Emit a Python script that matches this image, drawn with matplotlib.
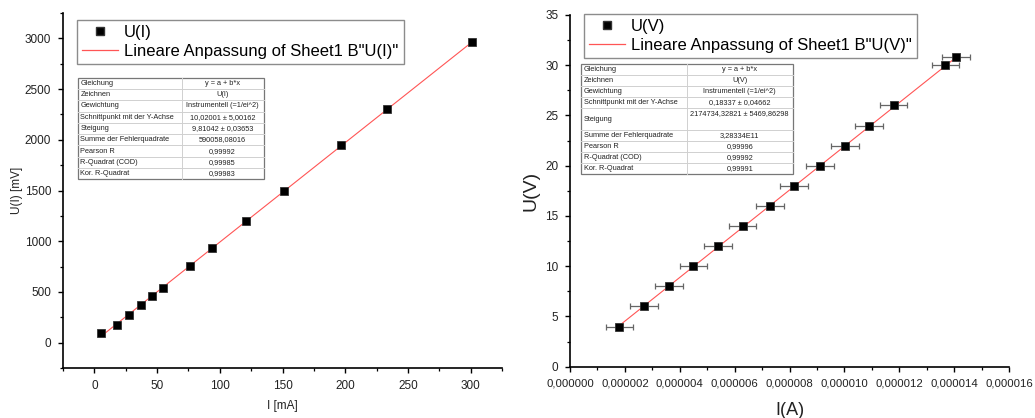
import numpy as np
import matplotlib
matplotlib.use("Agg")
import matplotlib.pyplot as plt
from matplotlib.ticker import MultipleLocator, FuncFormatter
from matplotlib.lines import Line2D

plt.rcParams['font.family'] = ['Liberation Sans', 'DejaVu Sans']

# left panel: U(I) in mV vs I in mA
i_ma = [5, 18, 28, 37, 46, 55, 76, 94, 121, 151, 197, 233, 301]
u_mv = [92, 178, 275, 373, 455, 538, 752, 934, 1198, 1492, 1948, 2304, 2962]
fit1_a, fit1_b = 10.02001, 9.81042

# right panel: U in V vs I in A
i_a = [1.80e-6, 2.70e-6, 3.61e-6, 4.50e-6, 5.39e-6, 6.29e-6, 7.29e-6,
       8.16e-6, 9.11e-6, 10.02e-6, 10.90e-6, 11.80e-6, 13.68e-6, 14.07e-6]
u_v = [4, 6, 8, 10, 12, 14, 16, 18, 20, 22, 24, 26, 30, 30.85]
i_a_err = [5e-7] * len(i_a)
fit2_a, fit2_b = 0.18337, 2174734.32821

table1 = [
    ("Gleichung", "y = a + b*x"),
    ("Zeichnen", "U(I)"),
    ("Gewichtung", "Instrumentell (=1/ei^2)"),
    ("Schnittpunkt mit der Y-Achse", "10,02001 ± 5,00162"),
    ("Steigung", "9,81042 ± 0,03653"),
    ("Summe der Fehlerquadrate", "590058,08016"),
    ("Pearson R", "0,99992"),
    ("R-Quadrat (COD)", "0,99985"),
    ("Kor. R-Quadrat", "0,99983"),
]
table2 = [
    ("Gleichung", "y = a + b*x"),
    ("Zeichnen", "U(V)"),
    ("Gewichtung", "Instrumentell (=1/ei^2)"),
    ("Schnittpunkt mit der Y-Achse", "0,18337 ± 0,04662"),
    ("Steigung", "2174734,32821 ± 5469,86298"),
    ("Summe der Fehlerquadrate", "3,28334E11"),
    ("Pearson R", "0,99996"),
    ("R-Quadrat (COD)", "0,99992"),
    ("Kor. R-Quadrat", "0,99991"),
]

W, H = 1035, 418
fig = plt.figure(figsize=(W / 100, H / 100), dpi=100)

FIT_COLOR = '#ff5555'
TXT = '#222222'


def style_axes(ax):
    ax.spines['top'].set_visible(False)
    ax.spines['right'].set_visible(False)
    for s in ('left', 'bottom'):
        ax.spines[s].set_linewidth(1.2)
    ax.tick_params(which='major', direction='out', length=3.5, width=1.0,
                   labelsize=8.5, pad=5, labelcolor=TXT)
    ax.tick_params(which='minor', direction='out', length=2.2, width=0.9)


def add_legend(ax, label1, label2, x0, y0):
    handles = [
        Line2D([], [], ls='none', marker='s', ms=6, mfc='black', mec='#333333'),
        Line2D([], [], color=FIT_COLOR, lw=0.9),
    ]
    leg = ax.legend(handles, [label1, label2], loc='upper left',
                    bbox_to_anchor=(x0 / W, 1 - y0 / H), bbox_transform=fig.transFigure,
                    fontsize=12, frameon=True, fancybox=False, framealpha=1,
                    edgecolor='#8c8c8c', borderaxespad=0, borderpad=0.32,
                    handlelength=2.15, handletextpad=0.35, labelspacing=0.2)
    leg.get_frame().set_linewidth(1.0)


# ---- left panel ----
ax1 = fig.add_axes([63 / W, 1 - 368 / H, 439 / W, 355 / H])
style_axes(ax1)
ax1.set_xlim(-25, 325)
ax1.set_ylim(-250, 3250)
ax1.xaxis.set_major_locator(MultipleLocator(50))
ax1.xaxis.set_minor_locator(MultipleLocator(25))
ax1.yaxis.set_major_locator(MultipleLocator(500))
ax1.yaxis.set_minor_locator(MultipleLocator(250))
ax1.set_xticks([0, 50, 100, 150, 200, 250, 300])
ax1.set_yticks([0, 500, 1000, 1500, 2000, 2500, 3000])

x_fit1 = np.linspace(min(i_ma), max(i_ma), 50)
ax1.plot(x_fit1, fit1_a + fit1_b * x_fit1, color=FIT_COLOR, lw=0.8, zorder=2)
ax1.plot(i_ma, u_mv, ls='none', marker='s', ms=5.8, mfc='black', mec='#333333', mew=0.6, zorder=3)
ax1.set_xlabel('I [mA]', fontsize=8.5, labelpad=6, color=TXT)
ax1.set_ylabel('U(I) [mV]', fontsize=8.5, labelpad=1, color=TXT)
add_legend(ax1, 'U(I)', 'Lineare Anpassung of Sheet1 B"U(I)"', 77, 20)

# ---- right panel ----
ax2 = fig.add_axes([570 / W, 1 - 366.7 / H, 439 / W, 351.7 / H])
style_axes(ax2)
ax2.set_xlim(0, 16e-6)
ax2.set_ylim(0, 35)
ax2.xaxis.set_major_locator(MultipleLocator(2e-6))
ax2.xaxis.set_minor_locator(MultipleLocator(1e-6))
ax2.yaxis.set_major_locator(MultipleLocator(5))
ax2.yaxis.set_minor_locator(MultipleLocator(2.5))
ax2.xaxis.set_major_formatter(FuncFormatter(lambda v, p: f"{v:.6f}".replace('.', ',')))
ax2.tick_params(axis='x', labelsize=8.2)

x_fit2 = np.linspace(min(i_a), max(i_a), 50)
ax2.plot(x_fit2, fit2_a + fit2_b * x_fit2, color=FIT_COLOR, lw=0.8, zorder=3)
ax2.errorbar(i_a, u_v, xerr=i_a_err, fmt='none', ecolor='#666666', elinewidth=0.9,
             capsize=2.5, capthick=0.9, zorder=2)
ax2.plot(i_a, u_v, ls='none', marker='s', ms=6.2, mfc='black', mec='#333333', mew=0.6, zorder=4)
ax2.set_xlabel('I(A)', fontsize=13, labelpad=10, color=TXT)
ax2.set_ylabel('U(V)', fontsize=14, labelpad=4, color=TXT)
add_legend(ax2, 'U(V)', 'Lineare Anpassung of Sheet1 B"U(V)"', 584, 14)

# ---- fit result tables (pixel overlay) ----
over = fig.add_axes([0, 0, 1, 1], zorder=10)
over.set_xlim(0, W)
over.set_ylim(H, 0)
over.axis('off')


def draw_table(rows, x0, x1, xdiv, y0, row_h, heights):
    ys = [y0]
    for h in heights:
        ys.append(ys[-1] + h * row_h)
    over.add_patch(plt.Rectangle((x0, y0), x1 - x0, ys[-1] - y0, fill=True,
                                 facecolor='white', edgecolor='#777777', lw=0.9))
    for y in ys[1:-1]:
        over.plot([x0, x1], [y, y], color='#d0d0d0', lw=0.7)
    over.plot([xdiv, xdiv], [y0, ys[-1]], color='#d0d0d0', lw=0.7)
    for (k, v), ya, yb, h in zip(rows, ys[:-1], ys[1:], heights):
        over.text(x0 + 3, (ya + yb) / 2, k, fontsize=5.3, ha='left', va='center', color=TXT)
        yv = (ya + yb) / 2 if h == 1 else ya + row_h / 2
        over.text((xdiv + x1) / 2, yv, v, fontsize=5.3, ha='center', va='center', color=TXT)


draw_table(table1, 77.5, 263.5, 181.5, 77.7, 11.29, [1] * 9)
draw_table(table2, 581, 792.5, 687, 64.3, 11.0, [1, 1, 1, 1, 1.97, 1, 1, 1, 1])

fig.savefig('out.png', dpi=100)
